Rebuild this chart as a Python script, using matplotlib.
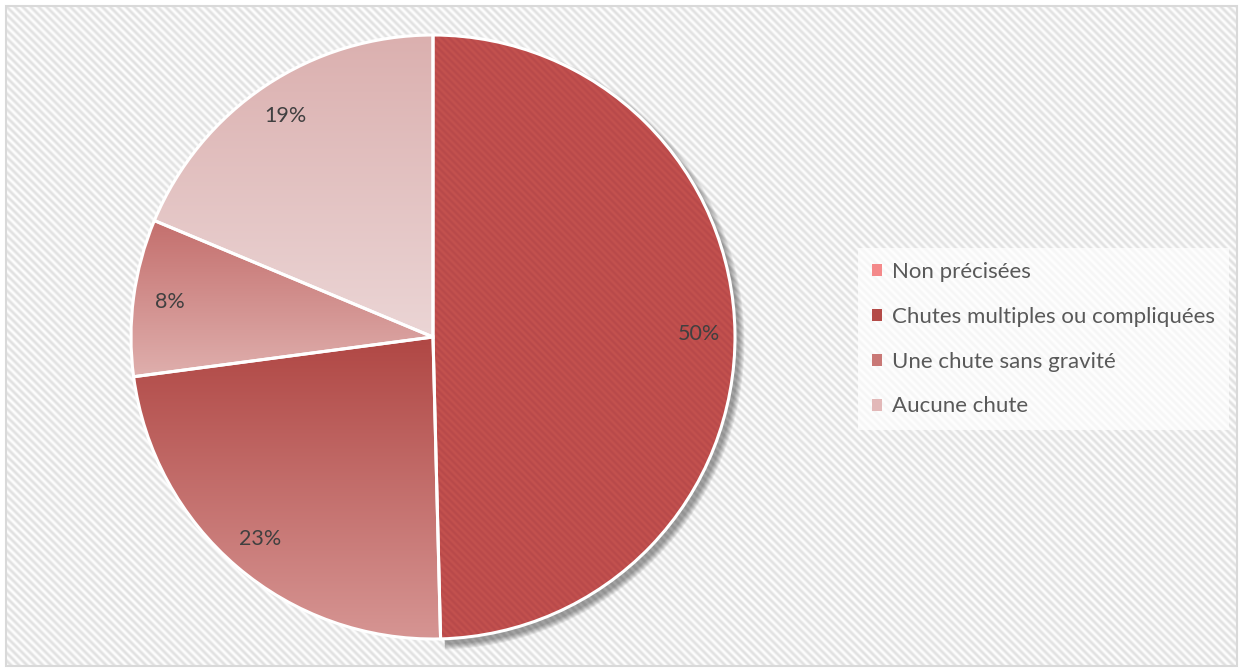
import numpy as np
import matplotlib
matplotlib.use('Agg')
import matplotlib.pyplot as plt
from matplotlib.patches import Wedge, Rectangle, Patch
from matplotlib.colors import LinearSegmentedColormap

# ---- data ----
categories = ['Non précisées', 'Chutes multiples ou compliquées',
              'Une chute sans gravité', 'Aucune chute']
shares = [49.6, 23.3, 8.4, 18.7]

# ---- style ----
legend_colors = ['#F4898A', '#B44B48', '#C97876', '#E2B8B8']
slice_grad = [('#C0504D', '#C0504D'), ('#B04744', '#D69593'),
              ('#C46F6D', '#DFAFAD'), ('#DBB0AF', '#EBD5D5')]
FONT = 'Lato'

W, H = 1240, 669
fig = plt.figure(figsize=(W / 100, H / 100), dpi=100)

# background texture + frame
bg = fig.add_axes([0, 0, 1, 1])
bg.set_xlim(0, W); bg.set_ylim(H, 0); bg.axis('off')
yy, xx = np.mgrid[0:H, 0:W]
tex = 0.5 + 0.5 * np.cos(2 * np.pi * (xx - yy) / 8.0)
bg.imshow(tex, cmap=LinearSegmentedColormap.from_list('bgc', ['#FFFFFF', '#E0E0E0']),
          extent=(6, W - 4, H - 4, 6), interpolation='bilinear', vmin=0, vmax=1)
bg.add_patch(Rectangle((5.5, 5.5), W - 9, H - 9, fill=False, edgecolor='#D9D9D9', lw=1.5))

# pie axes
cx, cy, r = 433, 337, 302
pad = 1.1
ax = fig.add_axes([(cx - r * pad) / W, (H - cy - r * pad) / H, 2 * r * pad / W, 2 * r * pad / H])
ax.set_xlim(-pad, pad); ax.set_ylim(-pad, pad); ax.axis('off')

wedges, texts, autotexts = ax.pie(
    shares, startangle=90, counterclock=False, radius=1,
    autopct='%.0f%%', pctdistance=0.88,
    wedgeprops=dict(linewidth=2.2, edgecolor='white', facecolor='none'),
    textprops=dict(color='#404040', fontsize=15.5, family=FONT))

for w in wedges:
    w.set_zorder(3)
for t in autotexts:
    t.set_zorder(5)

# shadow of the first slice
w0 = wedges[0]
for k in range(8):
    sh = Wedge((0.014, -0.018), 1.0 + 0.0025 * k, w0.theta1, w0.theta2,
               facecolor='black', edgecolor='none', alpha=0.05, zorder=1, clip_on=False)
    ax.add_patch(sh)

# fills
for i, (w, (c1, c2)) in enumerate(zip(wedges, slice_grad)):
    ext = w.get_path().get_extents()
    x0, y0, x1, y1 = ext.x0, ext.y0, ext.x1, ext.y1
    if i == 0:
        gy, gx = np.mgrid[y1:y0:600j, x0:x1:300j]
        arr = 0.5 + 0.5 * np.cos(2 * np.pi * (gx + gy) / (7.0 / r))
        cmap = LinearSegmentedColormap.from_list('s0', ['#C4524F', '#B8494A'])
    else:
        arr = np.linspace(0, 1, 256)[:, None] * np.ones((1, 4))
        cmap = LinearSegmentedColormap.from_list('g%d' % i, [c1, c2])
    im = ax.imshow(arr, cmap=cmap, extent=(x0, x1, y0, y1), origin='upper',
                   aspect='auto', zorder=2, interpolation='bilinear', vmin=0, vmax=1)
    im.set_clip_path(w)

ax.set_xlim(-pad, pad); ax.set_ylim(-pad, pad)

# legend
handles = [Patch(facecolor=c, edgecolor='none') for c in legend_colors]
leg = fig.legend(handles, categories, loc='upper left',
                 bbox_to_anchor=(858 / W, 1 - 248 / H), bbox_transform=fig.transFigure,
                 frameon=True, framealpha=0.7, edgecolor='none', fancybox=False,
                 handlelength=0.45, handleheight=0.45, handletextpad=0.45,
                 labelspacing=1.12, borderpad=0.62, borderaxespad=0,
                 prop=dict(family=FONT, size=16), labelcolor='#595959')

fig.savefig('out.png', dpi=100)
